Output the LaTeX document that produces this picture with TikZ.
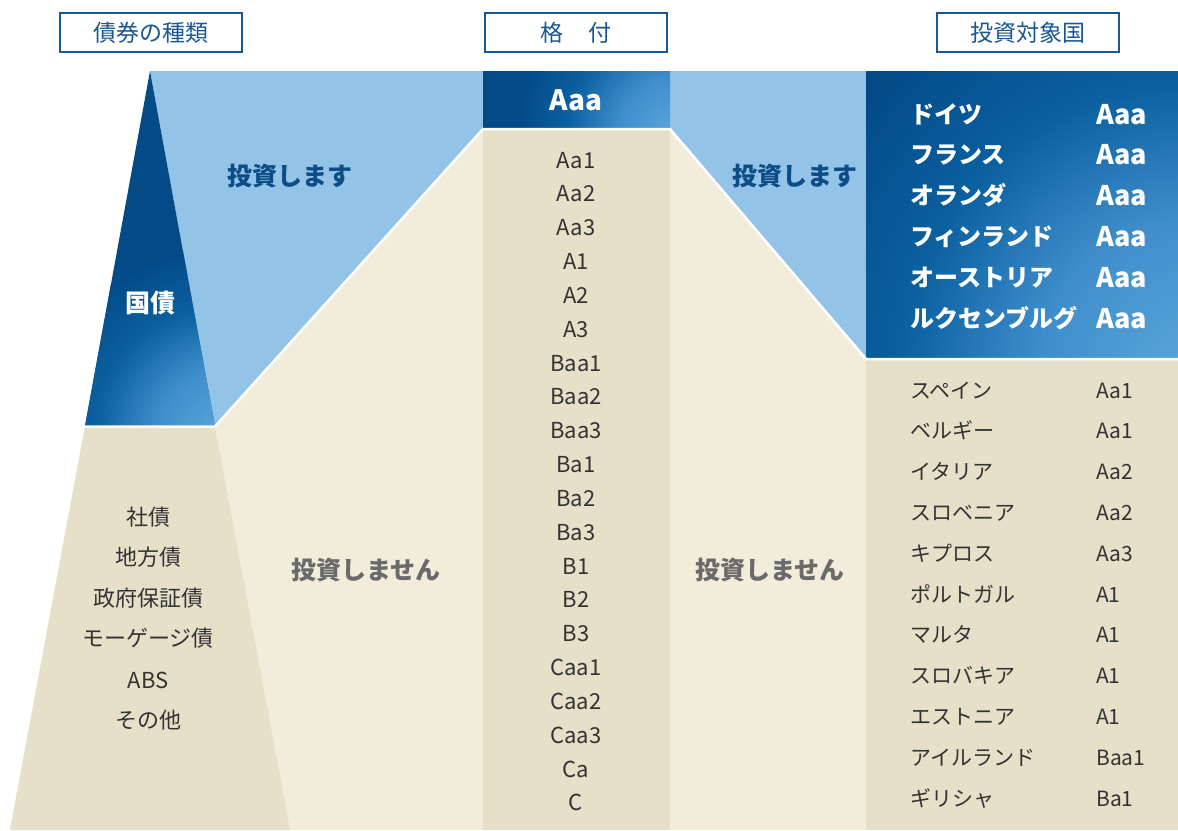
\documentclass[tikz,border=0pt]{standalone}
\usepackage{fontspec}
\setmainfont{Noto Sans CJK JP}
\definecolor{navy}{HTML}{034A87}
\definecolor{glow}{HTML}{5CA6DC}
\definecolor{glowa}{HTML}{3F8ECB}
\definecolor{glowb}{HTML}{0B60A0}
\definecolor{skyblue}{HTML}{93C4E8}
\definecolor{beigeL}{HTML}{F2EDDB}
\definecolor{beigeD}{HTML}{E6E0C9}
\definecolor{hdrblue}{HTML}{1A5894}
\definecolor{txtblue}{HTML}{0D4C86}
\definecolor{txtgray}{HTML}{6A6A6A}
\definecolor{txtdark}{HTML}{333333}
\pgfdeclareradialshading{glowshade}{\pgfpoint{0bp}{0bp}}{color(0bp)=(glow); color(9bp)=(glowa); color(17bp)=(glowb); color(25bp)=(navy); color(50bp)=(navy)}
\tikzset{
  hdr/.style={draw=hdrblue, line width=2.2pt, minimum width=182pt, minimum height=39pt,
    inner sep=0pt, text=hdrblue, font=\fontsize{23}{23}\selectfont},
  rate/.style={anchor=base, yshift=-8pt, text=txtdark, font=\fontsize{22}{22}\selectfont, inner sep=0pt},
  lrow/.style={anchor=base west, yshift=-8pt, text=txtdark, font=\fontsize{21}{21}\selectfont, inner sep=0pt},
  wrow/.style={anchor=base west, yshift=-9pt, text=white, font=\bfseries\fontsize{24}{24}\selectfont, inner sep=0pt},
  wrate/.style={anchor=base west, yshift=-10pt, text=white, font=\bfseries\fontsize{27}{27}\selectfont, inner sep=0pt},
  bigblue/.style={anchor=base, yshift=-9pt, text=txtblue, font=\bfseries\fontsize{25}{25}\selectfont, inner sep=0pt},
  biggray/.style={anchor=base, yshift=-9pt, text=txtgray, font=\bfseries\fontsize{25}{25}\selectfont, inner sep=0pt},
  sep/.style={white, line width=2.5pt},
}
\begin{document}
\begin{tikzpicture}[x=1pt,y=-1pt]
\useasboundingbox (0,0) rectangle (1178,830);
\fill[white] (0,0) rectangle (1178,830);
% light beige ground
\fill[beigeL] (85,426) -- (215,426) -- (483,129) -- (670,129) -- (866,359) -- (866,830) -- (10,830) -- cycle;
% light blue zones
\fill[skyblue] (150,71) -- (483,71) -- (483,129) -- (215,426) -- cycle;
\fill[skyblue] (670,71) -- (866,71) -- (866,359) -- (670,129) -- cycle;
% dark triangle
\begin{scope}
  \clip (150,71) -- (215,426) -- (85,426) -- cycle;
  \fill[navy] (80,60) rectangle (220,430);
  \shade[shading=glowshade] (225,436) circle (190);
\end{scope}
% Aaa box
\begin{scope}
  \clip (483,71) rectangle (670,128);
  \fill[navy] (483,71) rectangle (670,128);
  \shade[shading=glowshade] (676,134) circle (160);
\end{scope}
% right dark box
\begin{scope}
  \clip (866,71) rectangle (1178,358);
  \fill[navy] (866,71) rectangle (1178,358);
  \shade[shading=glowshade] (1195,375) circle (430);
\end{scope}
% dark beige areas
\fill[beigeD] (85,427) -- (215,427) -- (290,830) -- (10,830) -- cycle;
\fill[beigeD] (483,130) rectangle (670,830);
\fill[beigeD] (866,360) rectangle (1178,830);
% white separators
\draw[sep] (85,426.5) -- (215,426.5) -- (483,129) -- (670,129) -- (866,359) -- (1178,359);

% headers
\node[hdr] (h1) at (151,32.5) {債券の種類};
\node[hdr] (h2) at (576,32.5) {格\hspace{1.1em}付};
\node[hdr] (h3) at (1028,32.5) {投資対象国};

% labels
\node[bigblue] (inv1) at (290,176) {投資します};
\node[bigblue] (inv2) at (795,176) {投資します};
\node[biggray] (not1) at (366,570) {投資しません};
\node[biggray] (not2) at (770,570) {投資しません};
\node[anchor=base, yshift=-9pt, text=white, font=\bfseries\fontsize{25}{25}\selectfont, inner sep=0pt] (kokusai) at (150,303) {国債};

% left list
\foreach \t/\yy [count=\i] in {社債/517, 地方債/557, 政府保証債/598, モーゲージ債/638, ABS/680, その他/720}
  \node[rate] (bond\i) at (148,\yy) {\t};

% center ratings
\node[anchor=base, yshift=-10pt, text=white, font=\bfseries\fontsize{28}{28}\selectfont, inner sep=0pt] (aaa) at (576,100) {Aaa};
\foreach \t [count=\i] in {Aa1,Aa2,Aa3,A1,A2,A3,Baa1,Baa2,Baa3,Ba1,Ba2,Ba3,B1,B2,B3,Caa1,Caa2,Caa3,Ca,C}
  \node[rate] (r\i) at (576,{160+(\i-1)*33.84}) {\t};

% top countries
\foreach \n/\r [count=\i] in {ドイツ/Aaa, フランス/Aaa, オランダ/Aaa, フィンランド/Aaa, オーストリア/Aaa, ルクセンブルグ/Aaa}
{
  \node[wrow] (tc\i) at (910,{114+(\i-1)*40.8}) {\n};
  \node[wrate] (tr\i) at (1096,{114+(\i-1)*40.8}) {\r};
}
% other countries
\foreach \n/\r [count=\i] in {スペイン/Aa1, ベルギー/Aa1, イタリア/Aa2, スロベニア/Aa2, キプロス/Aa3, ポルトガル/A1, マルタ/A1, スロバキア/A1, エストニア/A1, アイルランド/Baa1, ギリシャ/Ba1}
{
  \node[lrow] (oc\i) at (910,{390+(\i-1)*40.8}) {\n};
  \node[lrow] (or\i) at (1096,{390+(\i-1)*40.8}) {\r};
}
\end{tikzpicture}
\end{document}
